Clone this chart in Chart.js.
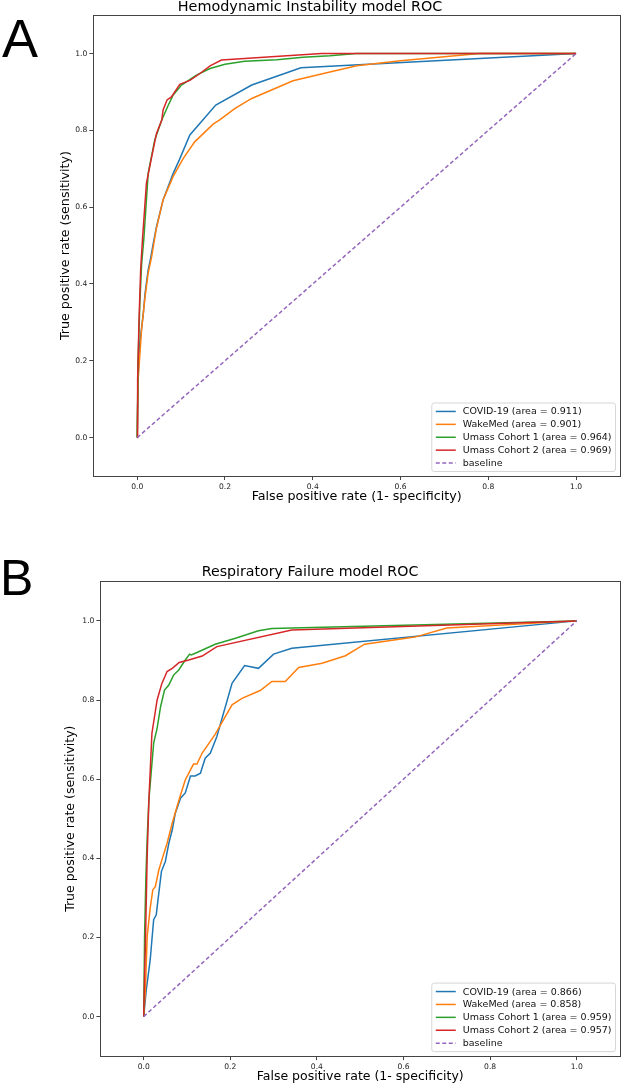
<!DOCTYPE html>
<html>
<head>
<meta charset="utf-8">
<script src="https://cdn.jsdelivr.net/npm/chart.js@4.4.1/dist/chart.umd.min.js"></script>
<style>
    html, body { margin: 0; padding: 0; background: #fff; }
    body { width: 622px; height: 1084px; position: relative; overflow: hidden; }
    canvas { position: absolute; left: 0; }
    #chartA { top: 0; }
    #chartB { top: 565px; }
    .letra { position: absolute; font-family: "Liberation Sans", Arial, sans-serif; line-height: 1; color: #000; }
    #letraA { left: 2px; top: 11px; font-size: 54px; }
    #letraB { left: 0px; top: 553px; font-size: 50px; }
</style>
</head>
<body>
<div class="letra" id="letraA">A</div>
<div class="letra" id="letraB">B</div>
<canvas id="chartA" width="622" height="520"></canvas>
<canvas id="chartB" width="622" height="519"></canvas>
<script>
// ===== datos =====
const tickValues = [0, 0.2, 0.4, 0.6, 0.8, 1.0];
const baselineFpr = [0, 1];
const baselineTpr = [0, 1];

// A - Hemodynamic Instability
const hemoCovidFpr = [0, 0.002, 0.006, 0.014, 0.018, 0.025, 0.030, 0.036, 0.044, 0.059, 0.082, 0.096, 0.120, 0.179, 0.261, 0.373, 1.0];
const hemoCovidTpr = [0, 0.157, 0.246, 0.324, 0.376, 0.437, 0.463, 0.502, 0.549, 0.619, 0.688, 0.723, 0.788, 0.866, 0.918, 0.963, 1.0];
const hemoWakeFpr = [0, 0.002, 0.010, 0.018, 0.025, 0.033, 0.043, 0.059, 0.082, 0.105, 0.131, 0.173, 0.188, 0.223, 0.261, 0.355, 0.439, 0.5, 0.6, 0.78, 1.0];
const hemoWakeTpr = [0, 0.149, 0.281, 0.367, 0.428, 0.471, 0.541, 0.619, 0.680, 0.727, 0.770, 0.816, 0.827, 0.857, 0.883, 0.929, 0.952, 0.968, 0.981, 1.0, 1.0];
const hemoUmass1Fpr = [0, 0.002, 0.006, 0.010, 0.015, 0.025, 0.040, 0.056, 0.071, 0.082, 0.101, 0.135, 0.166, 0.200, 0.245, 0.318, 0.378, 0.439, 0.5, 1.0];
const hemoUmass1Tpr = [0, 0.20, 0.35, 0.45, 0.515, 0.688, 0.775, 0.827, 0.866, 0.892, 0.918, 0.944, 0.961, 0.972, 0.980, 0.984, 0.990, 0.994, 1.0, 1.0];
const hemoUmass2Fpr = [0, 0.001, 0.004, 0.008, 0.012, 0.021, 0.033, 0.044, 0.056, 0.059, 0.068, 0.078, 0.097, 0.120, 0.143, 0.166, 0.192, 0.42, 1.0];
const hemoUmass2Tpr = [0, 0.15, 0.30, 0.44, 0.515, 0.662, 0.731, 0.792, 0.827, 0.853, 0.879, 0.887, 0.920, 0.930, 0.948, 0.968, 0.983, 1.0, 1.0];
const hemoLabels = ['COVID-19 (area = 0.911)', 'WakeMed (area = 0.901)', 'Umass Cohort 1 (area = 0.964)', 'Umass Cohort 2 (area = 0.969)', 'baseline'];

// B - Respiratory Failure
const respCovidFpr = [0, 0.006, 0.010, 0.015, 0.019, 0.023, 0.029, 0.033, 0.041, 0.050, 0.058, 0.066, 0.073, 0.085, 0.096, 0.108, 0.119, 0.131, 0.142, 0.154, 0.169, 0.204, 0.233, 0.265, 0.300, 0.342, 1.0];
const respCovidTpr = [0, 0.068, 0.101, 0.143, 0.194, 0.245, 0.257, 0.295, 0.367, 0.392, 0.438, 0.472, 0.514, 0.552, 0.565, 0.608, 0.608, 0.615, 0.653, 0.666, 0.708, 0.842, 0.887, 0.880, 0.916, 0.931, 1.0];
const respWakeFpr = [0, 0.004, 0.008, 0.015, 0.021, 0.027, 0.035, 0.042, 0.054, 0.066, 0.077, 0.085, 0.096, 0.115, 0.123, 0.135, 0.165, 0.204, 0.227, 0.269, 0.296, 0.327, 0.358, 0.412, 0.466, 0.51, 0.626, 0.70, 1.0];
const respWakeTpr = [0, 0.068, 0.202, 0.274, 0.320, 0.329, 0.371, 0.396, 0.438, 0.489, 0.531, 0.560, 0.598, 0.638, 0.638, 0.666, 0.713, 0.788, 0.804, 0.824, 0.847, 0.847, 0.882, 0.893, 0.912, 0.941, 0.959, 0.982, 1.0];
const respUmass1Fpr = [0, 0.002, 0.005, 0.008, 0.012, 0.023, 0.031, 0.039, 0.048, 0.058, 0.069, 0.081, 0.096, 0.106, 0.110, 0.123, 0.165, 0.212, 0.265, 0.296, 1.0];
const respUmass1Tpr = [0, 0.20, 0.35, 0.45, 0.548, 0.691, 0.729, 0.783, 0.825, 0.838, 0.863, 0.876, 0.901, 0.916, 0.914, 0.920, 0.941, 0.956, 0.975, 0.981, 1.0];
const respUmass2Fpr = [0, 0.002, 0.004, 0.008, 0.012, 0.019, 0.031, 0.042, 0.054, 0.066, 0.082, 0.104, 0.135, 0.169, 0.342, 1.0];
const respUmass2Tpr = [0, 0.10, 0.186, 0.404, 0.548, 0.716, 0.800, 0.842, 0.872, 0.880, 0.895, 0.901, 0.911, 0.935, 0.977, 1.0];
const respLabels = ['COVID-19 (area = 0.866)', 'WakeMed (area = 0.858)', 'Umass Cohort 1 (area = 0.959)', 'Umass Cohort 2 (area = 0.957)', 'baseline'];

const colores = ['#1f77b4', '#ff7f0e', '#2ca02c', '#d62728', '#9467bd'];
const fuente = "'DejaVu Sans', sans-serif";

// ===== plugins =====
// marco de los ejes (spines)
const marcoPlugin = {
    id: 'marco',
    afterDatasetsDraw(chart) {
        const { ctx, chartArea: a } = chart;
        ctx.save();
        ctx.strokeStyle = '#444';
        ctx.lineWidth = 1;
        ctx.strokeRect(Math.round(a.left) + 0.5, Math.round(a.top) + 0.5, Math.round(a.right - a.left), Math.round(a.bottom - a.top));
        ctx.restore();
    }
};

// leyenda tipo matplotlib abajo a la derecha
const leyendaPlugin = {
    id: 'leyendaCaja',
    afterDraw(chart) {
        const { ctx, chartArea: a } = chart;
        const sets = chart.data.datasets;
        const fs = 9.5, fila = 12.9, pad = 4, linea = 20, sep = 7;
        ctx.save();
        ctx.font = fs + 'px ' + fuente;
        const tw = Math.max(...sets.map(d => ctx.measureText(d.label).width));
        const w = pad + linea + sep + tw + pad;
        const h = fila * sets.length + 4;
        const x0 = a.right - 4.5 - w;
        const y0 = a.bottom - 4.5 - h;
        ctx.beginPath();
        ctx.roundRect(x0, y0, w, h, 2.5);
        ctx.fillStyle = 'rgba(255,255,255,0.8)';
        ctx.fill();
        ctx.strokeStyle = '#d6d6d6';
        ctx.lineWidth = 1;
        ctx.stroke();
        sets.forEach((d, i) => {
            const cy = y0 + 2 + fila * i + fila / 2;
            ctx.beginPath();
            ctx.setLineDash(d.borderDash || []);
            ctx.strokeStyle = d.borderColor;
            ctx.lineWidth = d.borderWidth;
            ctx.moveTo(x0 + pad, cy);
            ctx.lineTo(x0 + pad + linea, cy);
            ctx.stroke();
            ctx.setLineDash([]);
            ctx.fillStyle = '#111';
            ctx.textBaseline = 'middle';
            ctx.fillText(d.label, x0 + pad + linea + sep, cy + 0.5);
        });
        ctx.restore();
    }
};

const puntos = (xs, ys) => xs.map((x, i) => ({ x: x, y: ys[i] }));

const crearChart = (canvasId, cfg) => {
    const series = [
        [cfg.fpr[0], cfg.tpr[0]],
        [cfg.fpr[1], cfg.tpr[1]],
        [cfg.fpr[2], cfg.tpr[2]],
        [cfg.fpr[3], cfg.tpr[3]],
        [baselineFpr, baselineTpr]
    ];
    const datasets = series.map((s, i) => ({
        label: cfg.labels[i],
        data: puntos(s[0], s[1]),
        borderColor: colores[i],
        backgroundColor: colores[i],
        borderWidth: 1.5,
        borderDash: i === 4 ? [4, 2.5] : [],
        pointRadius: 0,
        tension: 0,
        order: 5 - i
    }));

    const ejeComun = {
        type: 'linear',
        min: -0.1,
        max: 1.1,
        afterBuildTicks: (s) => { s.ticks = tickValues.map(v => ({ value: v })); },
        ticks: {
            callback: (v) => Number(v).toFixed(1),
            font: { size: 7.6, family: fuente },
            color: '#222',
            padding: 2,
            autoSkip: false,
            maxRotation: 0
        },
        grid: { display: true, drawOnChartArea: false, drawTicks: true, tickLength: 4, color: '#444', lineWidth: 1 },
        border: { display: false }
    };

    return new Chart(document.getElementById(canvasId), {
        type: 'line',
        data: { datasets: datasets },
        options: {
            responsive: false,
            animation: false,
            layout: { padding: { left: 0, right: 2, top: 0, bottom: 0 } },
            plugins: {
                legend: { display: false },
                tooltip: { enabled: false },
                title: {
                    display: true,
                    text: cfg.title,
                    color: '#000',
                    font: { size: cfg.titleSize, family: fuente, weight: 'normal', lineHeight: 1.05 },
                    padding: { top: 0, bottom: cfg.titleGap }
                }
            },
            scales: {
                x: Object.assign({}, ejeComun, {
                    afterFit: (s) => { s.height = cfg.xAxisHeight; },
                    title: {
                        display: true,
                        text: 'False positive rate (1- specificity)',
                        color: '#000',
                        font: { size: cfg.labelSize, family: fuente, lineHeight: 1.2 },
                        padding: { top: 0, bottom: cfg.xTitlePad }
                    }
                }),
                y: Object.assign({}, ejeComun, {
                    afterFit: (s) => { s.width = cfg.yAxisWidth; },
                    title: {
                        display: true,
                        text: 'True positive rate (sensitivity)',
                        color: '#000',
                        font: { size: cfg.labelSize, family: fuente, lineHeight: 1.2 },
                        padding: { top: cfg.yTitlePad, bottom: 0 }
                    }
                })
            }
        },
        plugins: [marcoPlugin, leyendaPlugin]
    });
};

crearChart('chartA', {
    title: 'Hemodynamic Instability model ROC',
    titleSize: 14.4,
    titleGap: 0,
    labelSize: 12.7,
    fpr: [hemoCovidFpr, hemoWakeFpr, hemoUmass1Fpr, hemoUmass2Fpr],
    tpr: [hemoCovidTpr, hemoWakeTpr, hemoUmass1Tpr, hemoUmass2Tpr],
    labels: hemoLabels,
    yAxisWidth: 93.3,
    xAxisHeight: 44,
    xTitlePad: 15.7,
    yTitlePad: 57.9
});

crearChart('chartB', {
    title: 'Respiratory Failure model ROC',
    titleSize: 14.2,
    titleGap: 1.4,
    labelSize: 12.5,
    fpr: [respCovidFpr, respWakeFpr, respUmass1Fpr, respUmass2Fpr],
    tpr: [respCovidTpr, respWakeTpr, respUmass1Tpr, respUmass2Tpr],
    labels: respLabels,
    yAxisWidth: 100.4,
    xAxisHeight: 27.9,
    xTitlePad: 0,
    yTitlePad: 63.5
});
</script>
</body>
</html>
